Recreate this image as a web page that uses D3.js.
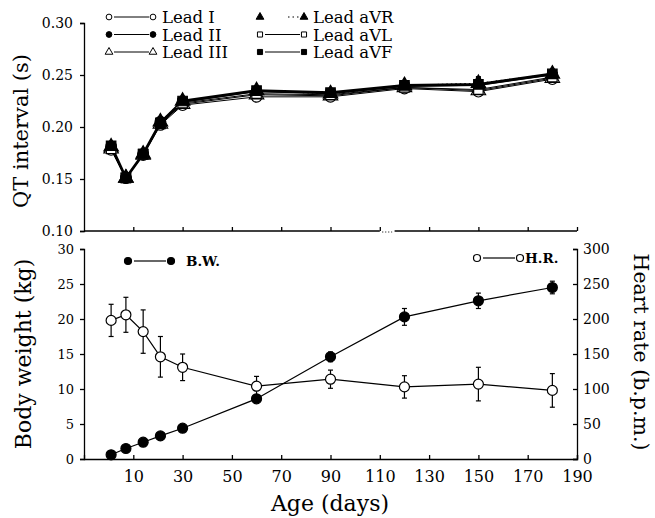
<!DOCTYPE html>
<html>
<head>
<meta charset="utf-8">
<script src="https://cdn.jsdelivr.net/npm/d3@7"></script>
<style>
  body { margin: 0; background: #fff; }
  svg { font-family: "DejaVu Serif", "Liberation Serif", serif; }
</style>
</head>
<body>
<div id="chart"></div>
<script>
// age of sampling (days)
const ages = [1, 7, 14, 21, 30, 60, 90, 120, 150, 180];
const xTicks = [10, 30, 50, 70, 90, 110, 130, 150, 170, 190];

// QT interval (s) per lead
const leadI   = [0.178, 0.151, 0.173, 0.202, 0.221, 0.229, 0.229, 0.237, 0.234, 0.246];
const leadII  = [0.181, 0.151, 0.174, 0.205, 0.224, 0.234, 0.232, 0.239, 0.240, 0.250];
const leadIII = [0.179, 0.151, 0.173, 0.203, 0.222, 0.231, 0.230, 0.238, 0.235, 0.247];
const leadAVR = [0.181, 0.151, 0.174, 0.205, 0.225, 0.235, 0.232, 0.240, 0.242, 0.251];
const leadAVL = [0.179, 0.151, 0.174, 0.203, 0.223, 0.232, 0.231, 0.238, 0.236, 0.248];
const leadAVF = [0.182, 0.151, 0.174, 0.204, 0.225, 0.235, 0.233, 0.240, 0.241, 0.251];
const leadAVFErr = [0, 0, 0, 0, 0, 0, 0, 0, 0.008, 0];
const qtTicks = [0.10, 0.15, 0.20, 0.25, 0.30];

// body weight (kg) and heart rate (b.p.m.)
const bodyWeight    = [0.6, 1.5, 2.4, 3.3, 4.4, 8.6, 14.6, 20.3, 22.6, 24.5];
const bodyWeightErr = [0.2, 0.2, 0.3, 0.3, 0.3, 0.5, 0.7, 1.2, 1.1, 0.9];
const heartRate     = [198, 206, 182, 146, 131, 104, 114, 103, 107, 98];
const heartRateErr  = [23, 25, 31, 29, 19, 14, 13, 16, 24, 24];
const bwTicks = [0, 5, 10, 15, 20, 25, 30];
const hrTicks = [0, 50, 100, 150, 200, 250, 300];

const leads = [
    { name: "Lead I",   values: leadI,   shape: "circle",   filled: false, dash: null,  width: 1 },
    { name: "Lead II",  values: leadII,  shape: "circle",   filled: true,  dash: null,  width: 1.2 },
    { name: "Lead III", values: leadIII, shape: "triangle", filled: false, dash: null,  width: 1 },
    { name: "Lead aVR", values: leadAVR, shape: "triangle", filled: true,  dash: "1.5,3", width: 1.2 },
    { name: "Lead aVL", values: leadAVL, shape: "square",   filled: false, dash: null,  width: 1 },
    { name: "Lead aVF", values: leadAVF, shape: "square",   filled: true,  dash: null,  width: 2.8 }
];

const width = 655, height = 518;
const svg = d3.select("#chart").append("svg")
    .attr("width", width)
    .attr("height", height);

const x = d3.scaleLinear().domain([-10, 190]).range([84, 577]);
const yQT = d3.scaleLinear().domain([0.10, 0.30]).range([231, 23]);
const yBW = d3.scaleLinear().domain([0, 30]).range([459, 249]);
const yHR = d3.scaleLinear().domain([0, 300]).range([459, 249]);

function symbolFor(shape, size) {
    let type = d3.symbolCircle;
    if (shape === "triangle") type = d3.symbolTriangle;
    if (shape === "square") type = d3.symbolSquare;
    return d3.symbol().type(type).size(size)();
}

function styleAxis(g, fontSize) {
    g.selectAll("path.domain").attr("stroke", "#000").attr("stroke-width", 1.3);
    g.selectAll(".tick line").attr("stroke", "#000").attr("stroke-width", 1.3);
    g.selectAll(".tick text").attr("fill", "#000")
        .attr("font-family", "DejaVu Serif")
        .attr("font-size", fontSize);
}

// ---------- top panel: QT interval ----------
const topPanel = svg.append("g");

// x axis with a small break between 110 and 116
const xTop = topPanel.append("g")
    .attr("transform", "translate(0,231)")
    .call(d3.axisBottom(x).tickValues(xTicks).tickSize(-4).tickFormat(""));
styleAxis(xTop, 14);
xTop.select("path.domain").remove();
topPanel.append("line")
    .attr("x1", x(-10)).attr("x2", x(110)).attr("y1", 231).attr("y2", 231)
    .attr("stroke", "#000").attr("stroke-width", 1.3);
topPanel.append("line")
    .attr("x1", x(116)).attr("x2", x(190)).attr("y1", 231).attr("y2", 231)
    .attr("stroke", "#000").attr("stroke-width", 1.3);
topPanel.append("line")
    .attr("x1", x(111)).attr("x2", x(115)).attr("y1", 232).attr("y2", 232)
    .attr("stroke", "#000").attr("stroke-width", 1).attr("stroke-dasharray", "1,2");

const yTop = topPanel.append("g")
    .attr("transform", "translate(84,0)")
    .call(d3.axisLeft(yQT).tickValues(qtTicks).tickSize(4).tickPadding(7)
        .tickFormat(d3.format(".2f")));
styleAxis(yTop, 14);

topPanel.append("text")
    .attr("transform", "translate(28,131) rotate(-90)")
    .attr("text-anchor", "middle")
    .attr("font-size", 21)
    .text("QT interval (s)");

const qtLine = d3.line()
    .x((d, i) => x(ages[i]))
    .y(d => yQT(d));

leads.forEach(function(lead) {
    topPanel.append("path")
        .attr("d", qtLine(lead.values))
        .attr("fill", "none")
        .attr("stroke", "#000")
        .attr("stroke-width", lead.width)
        .attr("stroke-dasharray", lead.dash);
});

// error bar on lead aVF
ages.forEach(function(a, i) {
    if (leadAVFErr[i] > 0) {
        topPanel.append("line")
            .attr("x1", x(a)).attr("x2", x(a))
            .attr("y1", yQT(leadAVF[i] - leadAVFErr[i]))
            .attr("y2", yQT(leadAVF[i] + leadAVFErr[i]))
            .attr("stroke", "#000").attr("stroke-width", 5);
    }
});

leads.forEach(function(lead) {
    topPanel.selectAll(null)
        .data(lead.values)
        .enter()
        .append("path")
        .attr("d", symbolFor(lead.shape, 90))
        .attr("transform", (d, i) => `translate(${x(ages[i])},${yQT(d)})`)
        .attr("fill", lead.filled ? "#000" : "#fff")
        .attr("stroke", "#000")
        .attr("stroke-width", 1.2);
});

// legend
leads.forEach(function(lead, i) {
    const col = Math.floor(i / 3), row = i % 3;
    const lx = col === 0 ? 109 : 260;
    const ly = 17 + row * 17.5;
    const g = topPanel.append("g").attr("transform", `translate(${lx},${ly})`);
    g.append("line")
        .attr("x1", lead.dash ? 28 : 5).attr("x2", 40).attr("y1", 0).attr("y2", 0)
        .attr("stroke", "#000").attr("stroke-width", 1)
        .attr("stroke-dasharray", lead.dash ? "1.5,3" : null);
    [0, 44].forEach(function(dx) {
        g.append("path")
            .attr("d", symbolFor(lead.shape, 26))
            .attr("transform", `translate(${dx},0)`)
            .attr("fill", lead.filled ? "#000" : "#fff")
            .attr("stroke", "#000").attr("stroke-width", 1);
    });
    g.append("text")
        .attr("x", 53).attr("y", 6)
        .attr("font-size", 16.5)
        .text(lead.name);
});

// ---------- bottom panel: body weight and heart rate ----------
const bottomPanel = svg.append("g");

const xBottom = bottomPanel.append("g")
    .attr("transform", "translate(0,459)")
    .call(d3.axisBottom(x).tickValues(xTicks).tickSize(-4).tickPadding(8));
styleAxis(xBottom, 16);
xBottom.selectAll(".tick text").attr("dy", "0.95em");

const yLeft = bottomPanel.append("g")
    .attr("transform", "translate(84,0)")
    .call(d3.axisLeft(yBW).tickValues(bwTicks).tickSize(4).tickPadding(6));
styleAxis(yLeft, 13);

const yRight = bottomPanel.append("g")
    .attr("transform", "translate(577,0)")
    .call(d3.axisRight(yHR).tickValues(hrTicks).tickSize(-4).tickPadding(6));
styleAxis(yRight, 14);

bottomPanel.append("text")
    .attr("transform", "translate(31,354) rotate(-90)")
    .attr("text-anchor", "middle")
    .attr("font-size", 22)
    .text("Body weight (kg)");

bottomPanel.append("text")
    .attr("transform", "translate(634,352) rotate(90)")
    .attr("text-anchor", "middle")
    .attr("font-size", 20.5)
    .text("Heart rate (b.p.m.)");

bottomPanel.append("text")
    .attr("x", 330).attr("y", 511)
    .attr("text-anchor", "middle")
    .attr("font-size", 22)
    .text("Age (days)");

function drawSeries(values, errors, yScale, filled) {
    const line = d3.line()
        .x((d, i) => x(ages[i]))
        .y(d => yScale(d));
    bottomPanel.append("path")
        .attr("d", line(values))
        .attr("fill", "none")
        .attr("stroke", "#000")
        .attr("stroke-width", 1.2);

    const bars = bottomPanel.selectAll(null)
        .data(values)
        .enter()
        .append("g")
        .attr("transform", (d, i) => `translate(${x(ages[i])},0)`);
    bars.append("line")
        .attr("y1", (d, i) => yScale(d - errors[i]))
        .attr("y2", (d, i) => yScale(d + errors[i]))
        .attr("stroke", "#000").attr("stroke-width", 1.2);
    [-1, 1].forEach(function(sign) {
        bars.append("line")
            .attr("x1", -2.5).attr("x2", 2.5)
            .attr("y1", (d, i) => yScale(d + sign * errors[i]))
            .attr("y2", (d, i) => yScale(d + sign * errors[i]))
            .attr("stroke", "#000").attr("stroke-width", 1.2);
    });

    bottomPanel.selectAll(null)
        .data(values)
        .enter()
        .append("circle")
        .attr("cx", (d, i) => x(ages[i]))
        .attr("cy", d => yScale(d))
        .attr("r", 5)
        .attr("fill", filled ? "#000" : "#fff")
        .attr("stroke", "#000")
        .attr("stroke-width", 1.2);
}

drawSeries(heartRate, heartRateErr, yHR, false);
drawSeries(bodyWeight, bodyWeightErr, yBW, true);

// bottom legends
function smallLegend(lx, ly, filled, label, gap, textX) {
    const g = bottomPanel.append("g").attr("transform", `translate(${lx},${ly})`);
    g.append("line")
        .attr("x1", 6).attr("x2", gap - 5).attr("y1", 0).attr("y2", 0)
        .attr("stroke", "#000").attr("stroke-width", 1.2);
    [0, gap].forEach(function(dx) {
        g.append("circle")
            .attr("cx", dx).attr("cy", 0).attr("r", 3.5)
            .attr("fill", filled ? "#000" : "#fff")
            .attr("stroke", "#000").attr("stroke-width", 1.2);
    });
    g.append("text")
        .attr("x", textX).attr("y", 5)
        .attr("font-size", 13.5)
        .attr("font-weight", "bold")
        .text(label);
}
smallLegend(128, 261, true, "B.W.", 43, 58);
smallLegend(477, 258, false, "H.R.", 43, 48);
</script>
</body>
</html>
